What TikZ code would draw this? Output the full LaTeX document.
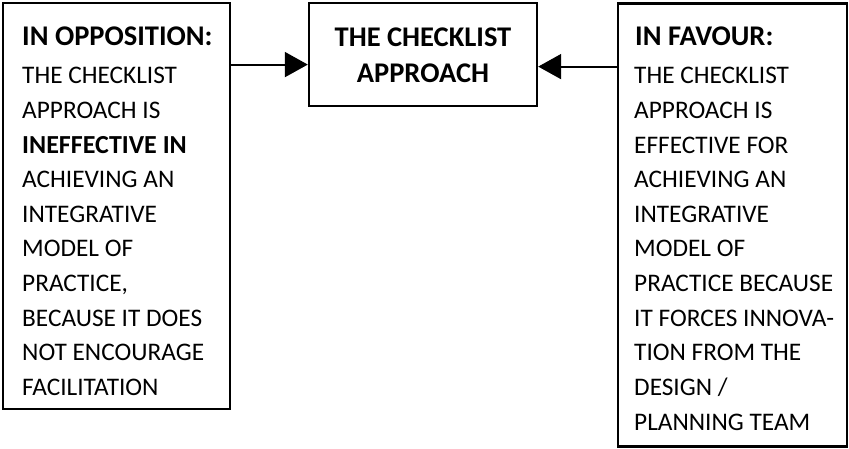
\documentclass[tikz,border=0pt]{standalone}
\usepackage{fontspec}
\setmainfont{Carlito}
\usetikzlibrary{arrows.meta}
\newcommand\emphline[1]{{\fontsize{26pt}{30pt}\selectfont\bfseries #1}}
\begin{document}
\begin{tikzpicture}[x=1pt,y=-1pt]
  \tikzset{
    box/.style={draw, line width=2.4pt, inner sep=0pt, fill=none},
    body/.style={font=\fontsize{25.3pt}{30pt}\selectfont},
    strong/.style={font=\fontsize{28.5pt}{30pt}\selectfont\bfseries},
    txt/.style={anchor=base west, inner sep=0pt, body},
    hd/.style={anchor=base west, inner sep=0pt, strong},
    ctr/.style={anchor=base, inner sep=0pt, strong},
    conn/.style={line width=2pt, -{Triangle[length=23pt,width=25pt]}}
  }
  \useasboundingbox (0,0) rectangle (849,449);

  % the three boxes
  \node[box, minimum width=227pt, minimum height=406pt] (L) at (116.5,206) {};
  \node[box, minimum width=228pt, minimum height=103pt] (C) at (423,54.5) {};
  \node[box, minimum width=229pt, minimum height=443pt] (R) at (732.5,225) {};

  % centre title
  \node[ctr] (c1) at (423,47) {THE CHECKLIST};
  \node[ctr] (c2) at (423,83) {APPROACH};

  % left column
  \node[hd] (lh) at (22,46) {IN OPPOSITION:};
  \foreach \t [count=\i] in {THE CHECKLIST, APPROACH IS,
      \emphline{INEFFECTIVE IN}, ACHIEVING AN, INTEGRATIVE, MODEL OF,
      {PRACTICE,}, BECAUSE IT DOES, NOT ENCOURAGE, FACILITATION}
    \node[txt] (l\i) at (22,{84+(\i-1)*34.6}) {\t};

  % right column
  \node[hd] (rh) at (635,46) {IN FAVOUR:};
  \foreach \t [count=\i] in {THE CHECKLIST, APPROACH IS, EFFECTIVE FOR,
      ACHIEVING AN, INTEGRATIVE, MODEL OF, PRACTICE BECAUSE,
      IT FORCES INNOVA-, TION FROM THE, DESIGN /, PLANNING TEAM}
    \node[txt] (r\i) at (634,{84+(\i-1)*34.6}) {\t};

  % connectors into the centre box
  \draw[conn] (L.east |- C.185.3) -- (C.185.3);
  \draw[conn] (R.west |- C.354.7) -- (C.354.7);
\end{tikzpicture}
\end{document}
